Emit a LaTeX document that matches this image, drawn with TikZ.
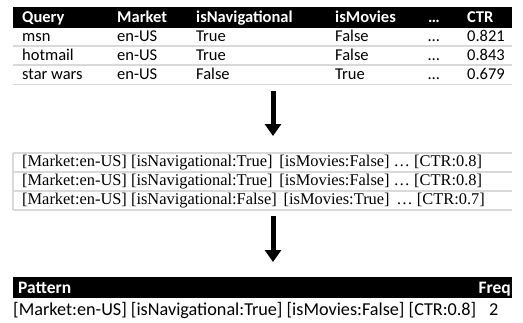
\documentclass[tikz,border=0pt]{standalone}
\usepackage{fontspec}
\newfontfamily\calfont{Carlito}
\newfontfamily\serfont{Liberation Serif}
\usetikzlibrary{arrows.meta}
\tikzset{
  hdr/.style={anchor=base west, inner sep=0pt, text=white, font=\calfont\bfseries\fontsize{16.5}{16.5}\selectfont},
  cell/.style={anchor=base west, inner sep=0pt, font=\calfont\fontsize{16.5}{16.5}\selectfont},
  mid/.style={anchor=base west, inner sep=0pt, font=\serfont\fontsize{16.4}{16.4}\selectfont},
  bhdr/.style={inner sep=0pt, text=white, font=\calfont\bfseries\fontsize{17.5}{17.5}\selectfont},
  bcell/.style={anchor=base west, inner sep=0pt, font=\calfont\fontsize{18.2}{18.2}\selectfont},
  sep/.style={draw=black!15, line width=1.6pt},
  bigarrow/.style={line width=5pt, -{Triangle[width=16pt,length=12pt]}}
}
\begin{document}
\begin{tikzpicture}[x=1pt,y=-1pt]
\useasboundingbox (0,0) rectangle (523,322);
% top table
\fill (13,7) rectangle (512,27.5);
\node[hdr] (hq) at (22,22.8) {Query};
\node[hdr] (hm) at (117,22.8) {Market};
\node[hdr] (hn) at (196,22.8) {isNavigational};
\node[hdr] (hv) at (335,22.8) {isMovies};
\node[hdr] (hd) at (428,22.8) {…};
\node[hdr] (hc) at (467,22.8) {CTR};
\foreach \y/\q/\n/\v/\c [count=\i] in {41.8/msn/True/False/0.821, 60.8/hotmail/True/False/0.843, 79.8/star wars/False/True/0.679}{
  \node[cell] (q\i) at (22,\y) {\q};
  \node[cell] (m\i) at (117,\y) {en-US};
  \node[cell] (n\i) at (196,\y) {\n};
  \node[cell] (v\i) at (335,\y) {\v};
  \node[cell] (d\i) at (428,\y) {…};
  \node[cell] (c\i) at (467,\y) {\c};
}
\foreach \y in {46,65,84.5}{\draw[sep] (13,\y) -- (512,\y);}
% arrow 1
\coordinate (a1s) at (273,91);
\coordinate (a1e) at (273,136);
\draw[bigarrow] (a1s) -- (a1e);
% middle table
\foreach \y in {153,172,191,210}{\draw[sep] (13,\y) -- (512,\y);}
\draw[sep] (13,153) -- (13,210);
\node[mid] (r1) at (22,166.6) {[Market:en-US] [isNavigational:True]\, [isMovies:False] … [CTR:0.8]};
\node[mid] (r2) at (22,185.6) {[Market:en-US] [isNavigational:True]\, [isMovies:False] … [CTR:0.8]};
\node[mid] (r3) at (22,204.6) {[Market:en-US] [isNavigational:False]\, [isMovies:True]\, … [CTR:0.7]};
% arrow 2
\coordinate (a2s) at (273,216);
\coordinate (a2e) at (273,262);
\draw[bigarrow] (a2s) -- (a2e);
% bottom table
\fill (13,277) rectangle (512,298);
\node[bhdr, anchor=base west] (hp) at (18,293.6) {Pattern};
\node[bhdr, anchor=base east] (hf) at (511,293.6) {Freq};
\node[bcell] (p1) at (13,315) {[Market:en-US] [isNavigational:True] [isMovies:False] [CTR:0.8]};
\node[bcell] (f1) at (489,315) {2};
\end{tikzpicture}
\end{document}
